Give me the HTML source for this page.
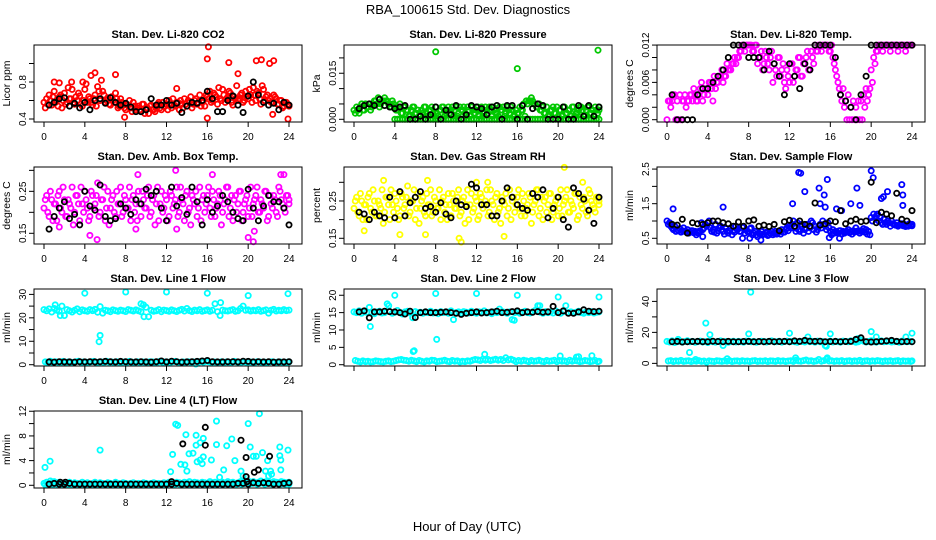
<!DOCTYPE html>
<html><head><meta charset="utf-8">
<style>
html,body{margin:0;padding:0;background:#fff;}
svg{display:block;font-family:"Liberation Sans",Arial,sans-serif;}
</style></head>
<body>
<svg id="chart" width="936" height="540" viewBox="0 0 936 540" xmlns="http://www.w3.org/2000/svg">
<rect width="936" height="540" fill="#fff"/>
<text x="468" y="14" font-size="13" text-anchor="middle">RBA_100615  Std. Dev. Diagnostics</text>
<text x="467" y="531" font-size="13" text-anchor="middle">Hour of Day (UTC)</text>
</svg>
<script>
const xTicks=[0,4,8,12,16,20,24];
const xTickLabels=["0","4","8","12","16","20","24"];

// CO2
const co2A=[0.58,0.62,0.66,0.55,0.70,0.60,0.64,0.52,0.68,0.58,0.62,0.72,0.56,0.60,0.65,0.54,0.72,0.58,0.62,0.55,0.66,0.75,0.60,0.70,0.58,0.63,0.55,0.60,0.68,0.52,0.62,0.57,0.50,0.55,0.52,0.58,0.50,0.54,0.48,0.56,0.52,0.46,0.55,0.50,0.53,0.58,0.50,0.54,0.56,0.60,0.52,0.55,0.58,0.50,0.56,0.62,0.54,0.58,0.52,0.60,0.56,0.66,0.58,0.54,0.64,0.70,0.60,0.66,0.56,0.62,0.72,0.58,0.64,0.68,0.55,0.62,0.60,0.66,0.58,0.70,0.62,0.66,0.74,0.60,0.68,0.56,0.72,0.64,0.60,0.58,0.66,0.62,0.56,0.60,0.54,0.58,0.55];
const co2B=[0.52,0.56,0.60,0.64,0.58,0.54,0.66,0.60,0.56,0.74,0.62,0.58,0.64,0.68,0.56,0.60,0.78,0.64,0.58,0.62,0.54,0.70,0.82,0.66,0.60,0.56,0.64,0.58,0.62,0.54,0.58,0.52,0.56,0.60,0.48,0.54,0.52,0.50,0.56,0.46,0.52,0.54,0.50,0.48,0.56,0.52,0.58,0.54,0.50,0.56,0.62,0.54,0.58,0.60,0.52,0.56,0.60,0.64,0.56,0.62,0.58,0.54,0.60,0.66,0.62,0.58,0.68,0.64,0.74,0.60,0.66,0.62,0.70,0.58,0.64,0.76,0.62,0.68,0.60,0.64,0.72,0.58,0.66,0.70,0.62,0.76,0.60,0.66,0.62,0.58,0.64,0.56,0.60,0.52,0.58,0.56,0.54];
const co2OutX=[16.1,16.0,18.1,20.8,21.3,22.1,22.5,19.0,7.0,5.0,4.6,1.0,23.9,16.0,7.9,22.4,1.5,2.7,3.8,13.0];
const co2OutY=[1.18,1.05,1.01,1.03,1.04,1.00,1.03,0.89,0.88,0.90,0.87,0.80,0.40,0.41,0.42,0.45,0.79,0.80,0.80,0.73];
const co2K=[0.55,0.58,0.62,0.63,0.54,0.57,0.52,0.58,0.50,0.60,0.62,0.57,0.63,0.58,0.55,0.57,0.53,0.48,0.48,0.50,0.62,0.55,0.55,0.60,0.55,0.57,0.47,0.54,0.58,0.57,0.60,0.70,0.62,0.48,0.48,0.60,0.65,0.55,0.47,0.65,0.80,0.66,0.58,0.55,0.57,0.50,0.58,0.55];

// Pressure
const prA=[0.003,0.004,0.002,0.005,0.003,0.004,0.005,0.004,0.006,0.005,0.004,0.006,0.007,0.006,0.005,0.006,0.004,0.003,0.005,0.002,0.004,0.003,0.001,0.004,0.002,0.003,0.001,0.002,0.004,0.001,0.003,0.002,0.004,0.001,0.003,0.004,0.002,0.004,0.003,0.001,0.004,0.002,0.003,0.004,0.001,0.003,0.004,0.002,0.003,0.001,0.004,0.002,0.003,0.004,0.001,0.003,0.002,0.004,0.003,0.001,0.004,0.002,0.003,0.001,0.002,0.004,0.003,0.001,0.005,0.006,0.006,0.005,0.004,0.003,0.004,0.002,0.001,0.003,0.004,0.002,0.001,0.003,0.004,0.002,0.003,0.001,0.004,0.002,0.003,0.004,0.001,0.003,0.004,0.002,0.001,0.003,0.004];
const prB=[0.002,0.003,0.004,0.003,0.005,0.004,0.003,0.005,0.006,0.007,0.005,0.006,0.006,0.005,0.004,0.005,0.003,0.004,0.002,0.004,0.003,0.001,0.003,0.004,0.002,0.001,0.003,0.004,0.002,0.003,0.004,0.001,0.002,0.003,0.004,0.001,0.003,0.002,0.004,0.003,0.001,0.004,0.003,0.002,0.004,0.001,0.003,0.002,0.004,0.003,0.001,0.004,0.002,0.003,0.004,0.002,0.001,0.003,0.004,0.002,0.003,0.004,0.001,0.003,0.002,0.003,0.005,0.006,0.006,0.007,0.005,0.004,0.005,0.003,0.002,0.004,0.001,0.003,0.002,0.004,0.003,0.001,0.004,0.002,0.003,0.004,0.001,0.002,0.004,0.003,0.001,0.004,0.002,0.003,0.004,0.002,0.003];
const prZero=[0,0,0,0,0,0,0,0,0,0,0,0,0,0,0,0,0,0,0,0,0,0,0,0,0,0,0,0,0,0,0,0,0,0,0,0,0,0,0,0,0,0,0,0,0,0,0,0,0,0,0,0,0,0,0,0,0,0,0,0,0,0,0,0,0,0,0,0,0,0,0,0,0,0,0,0,0,0,0,0,0];
const prOutX=[8,16,23.9];
const prOutY=[0.022,0.0165,0.0225];
const prK=[0.0035,0.0045,0.005,0.0045,0.0065,0.0045,0.004,0.0035,0.004,0.0045,0,0,0.001,0,0.0015,0.004,0,0.003,0.0015,0.0045,0,0.0015,0.0045,0.004,0.0035,0.0015,0.004,0.0045,0,0.0045,0.0045,0,0.0045,0,0.0035,0.005,0.0045,0,0,0,0.004,0,0,0.0045,0.001,0.0045,0.001,0.004];

// Li-820 Temp
const tmA=[0,0.003,0.003,0.004,0.003,0.004,0.003,0.004,0.003,0.004,0.003,0.004,0.003,0.005,0.003,0.005,0.004,0.006,0.003,0.005,0.006,0.007,0.006,0.007,0.008,0.008,0.009,0.009,0.010,0.011,0.012,0.012,0.012,0.012,0.011,0.012,0.010,0.011,0.009,0.010,0.008,0.011,0.009,0.007,0.010,0.008,0.006,0.008,0.006,0.009,0.007,0.008,0.010,0.007,0.009,0.011,0.008,0.010,0.012,0.011,0.012,0.012,0.012,0.012,0.011,0.010,0.008,0.006,0.004,0.005,0.003,0.004,0.002,0.003,0.002,0.003,0.003,0.004,0.005,0.004,0.008,0.010,0.011,0.012,0.012,0.012,0.012,0.012,0.012,0.012,0.012,0.012,0.012,0.012,0.012,0.012,0.012];
const tmB=[0.003,0.002,0.004,0,0,0,0.003,0.002,0.003,0.004,0.005,0.003,0.004,0.006,0.004,0.005,0.006,0.005,0.007,0.006,0.007,0.008,0.007,0.009,0.008,0.009,0.010,0.010,0.011,0.012,0.011,0.012,0.012,0.011,0.012,0.009,0.010,0.008,0.011,0.009,0.010,0.006,0.008,0.010,0.007,0.009,0.005,0.007,0.009,0.006,0.008,0.010,0.007,0.009,0.010,0.008,0.011,0.009,0.011,0.012,0.011,0.012,0.012,0.011,0.012,0.009,0.007,0.005,0.003,0.002,0,0,0,0,0,0,0,0.002,0.003,0.005,0.006,0.009,0.011,0.012,0.011,0.012,0.012,0.011,0.012,0.012,0.011,0.012,0.012,0.011,0.012,0.012,0.012];
const tmOutX=[];
const tmOutY=[];
const tmK=[0.004,0,0,0,0,0.004,0.005,0.005,0.006,0.007,0.008,0.010,0.012,0.012,0.012,0.010,0.010,0.010,0.008,0.011,0.009,0.007,0.004,0.009,0.007,0.005,0.009,0.008,0.012,0.012,0.012,0.012,0.010,0.004,0.003,0.002,0,0.004,0.007,0.012,0.012,0.012,0.012,0.012,0.012,0.012,0.012,0.012];

// Amb box temp
const abA=[0.21,0.24,0.19,0.23,0.22,0.18,0.25,0.20,0.23,0.19,0.22,0.26,0.20,0.24,0.18,0.22,0.25,0.21,0.19,0.24,0.22,0.27,0.20,0.23,0.18,0.25,0.21,0.24,0.19,0.22,0.26,0.20,0.23,0.21,0.18,0.24,0.22,0.25,0.19,0.23,0.21,0.26,0.20,0.24,0.22,0.18,0.25,0.21,0.23,0.19,0.24,0.22,0.26,0.20,0.23,0.18,0.25,0.21,0.24,0.22,0.19,0.26,0.23,0.20,0.24,0.21,0.25,0.19,0.22,0.24,0.20,0.23,0.26,0.21,0.18,0.24,0.22,0.25,0.20,0.23,0.19,0.26,0.22,0.24,0.20,0.23,0.21,0.25,0.19,0.22,0.24,0.20,0.26,0.23,0.21,0.24,0.22];
const abB=[0.23,0.20,0.25,0.18,0.22,0.24,0.21,0.26,0.19,0.23,0.21,0.17,0.24,0.22,0.26,0.20,0.23,0.18,0.25,0.21,0.24,0.19,0.23,0.26,0.21,0.17,0.23,0.20,0.25,0.22,0.19,0.24,0.21,0.26,0.23,0.20,0.18,0.22,0.25,0.21,0.24,0.19,0.23,0.17,0.26,0.22,0.20,0.24,0.18,0.25,0.21,0.23,0.19,0.26,0.22,0.24,0.20,0.17,0.23,0.25,0.21,0.18,0.24,0.22,0.26,0.19,0.23,0.21,0.25,0.17,0.22,0.26,0.19,0.24,0.23,0.20,0.25,0.18,0.22,0.24,0.21,0.19,0.23,0.26,0.20,0.22,0.25,0.18,0.24,0.21,0.23,0.19,0.25,0.22,0.20,0.24,0.23];
const abOutX=[5.2,4.5,12.9,9.2,16.5,23.2,23.5,20.5,20.0,20.6,9.0,13.0,1.5];
const abOutY=[0.135,0.145,0.30,0.29,0.29,0.29,0.29,0.13,0.14,0.155,0.16,0.16,0.165];
const abK=[0.16,0.19,0.21,0.225,0.185,0.195,0.17,0.25,0.215,0.205,0.265,0.19,0.18,0.185,0.22,0.21,0.195,0.23,0.22,0.255,0.24,0.25,0.21,0.18,0.26,0.215,0.235,0.195,0.26,0.225,0.17,0.23,0.20,0.215,0.24,0.225,0.20,0.185,0.18,0.255,0.21,0.18,0.215,0.24,0.225,0.225,0.21,0.17];

// Gas stream RH
const rhA=[0.23,0.26,0.21,0.25,0.24,0.20,0.27,0.22,0.25,0.21,0.24,0.28,0.22,0.26,0.20,0.24,0.27,0.23,0.21,0.26,0.24,0.29,0.22,0.25,0.20,0.27,0.23,0.26,0.21,0.24,0.28,0.22,0.25,0.23,0.20,0.26,0.24,0.27,0.21,0.25,0.23,0.28,0.22,0.26,0.24,0.20,0.27,0.23,0.25,0.21,0.26,0.24,0.28,0.22,0.25,0.20,0.27,0.23,0.26,0.24,0.21,0.28,0.25,0.22,0.26,0.23,0.27,0.21,0.24,0.26,0.22,0.25,0.28,0.23,0.20,0.26,0.24,0.27,0.22,0.25,0.21,0.28,0.24,0.26,0.22,0.25,0.23,0.27,0.21,0.24,0.26,0.22,0.28,0.25,0.23,0.26,0.24];
const rhB=[0.25,0.22,0.27,0.20,0.24,0.26,0.23,0.28,0.21,0.25,0.23,0.19,0.26,0.24,0.28,0.22,0.25,0.20,0.27,0.23,0.26,0.21,0.25,0.28,0.23,0.19,0.25,0.22,0.27,0.24,0.21,0.26,0.23,0.28,0.25,0.22,0.20,0.24,0.27,0.23,0.26,0.21,0.25,0.19,0.28,0.24,0.22,0.26,0.20,0.27,0.23,0.25,0.21,0.28,0.24,0.26,0.22,0.19,0.25,0.27,0.23,0.20,0.26,0.24,0.28,0.21,0.25,0.23,0.27,0.19,0.24,0.28,0.21,0.26,0.25,0.22,0.27,0.20,0.24,0.26,0.23,0.21,0.25,0.28,0.22,0.24,0.27,0.20,0.26,0.23,0.25,0.21,0.27,0.24,0.22,0.26,0.25];
const rhOutX=[10.5,10.3,7.0,4.5,14.7,20.6,12.0,2.9,7.2,13.1,1.0,22.4];
const rhOutY=[0.14,0.15,0.16,0.16,0.155,0.34,0.30,0.305,0.305,0.30,0.17,0.30];
const rhK=[0.22,0.215,0.20,0.22,0.21,0.205,0.26,0.205,0.275,0.21,0.245,0.26,0.275,0.23,0.235,0.22,0.245,0.215,0.205,0.25,0.24,0.235,0.295,0.285,0.24,0.24,0.21,0.21,0.25,0.285,0.26,0.24,0.23,0.225,0.27,0.26,0.28,0.205,0.23,0.26,0.20,0.18,0.285,0.27,0.255,0.225,0.19,0.26];

// Sample flow
const sfA=[1.0,0.95,0.8,0.85,0.75,0.78,0.72,0.7,0.75,0.68,0.72,0.7,0.66,0.72,0.75,0.9,0.95,0.8,0.75,0.9,0.72,0.85,0.7,0.78,0.65,0.8,0.72,0.85,0.78,0.7,0.82,0.74,0.68,0.8,0.65,0.6,0.65,0.7,0.62,0.68,0.6,0.7,0.65,0.62,0.7,0.75,0.68,0.8,0.85,0.9,0.8,0.95,0.7,0.85,0.75,0.9,0.8,0.95,0.85,0.75,0.9,1.0,0.85,0.95,0.7,0.75,0.7,0.65,0.72,0.7,0.68,0.75,0.7,0.72,0.8,0.72,0.7,0.78,0.75,0.7,1.1,1.2,1.15,1.0,0.95,1.05,0.9,0.95,1.0,0.9,0.95,0.88,0.92,0.9,0.88,0.92,0.9];
const sfB=[0.9,0.85,0.75,0.7,0.72,0.68,0.8,0.7,0.65,0.72,0.66,0.6,0.7,0.95,0.8,0.85,1.0,0.7,0.68,0.65,0.8,0.75,0.62,0.7,0.72,0.6,0.68,0.75,0.7,0.82,0.65,0.7,0.78,0.6,0.7,0.55,0.62,0.6,0.66,0.58,0.64,0.6,0.7,0.66,0.62,0.68,0.75,0.72,0.8,1.0,0.7,0.75,0.9,0.65,0.8,0.7,1.0,0.75,0.68,0.85,0.8,0.9,0.75,0.8,0.6,0.65,0.68,0.72,0.62,0.65,0.7,0.66,0.62,0.68,0.7,0.65,0.72,0.68,0.62,0.6,1.0,1.1,1.2,1.1,0.9,0.95,1.0,0.85,0.92,0.88,0.85,0.9,0.86,0.84,0.85,0.88,0.86];
const sfOutX=[0.6,5.5,12.9,13.1,15.7,20.0,20.2,13.5,14.9,15.4,18.6,21.6,23.0,23.1,21.0,21.2,18.9,17.1,16.6,15.5,12.3,15.0,9.2,7.4,8.1,16.9,15.9,3.5,23.1,18.0];
const sfOutY=[1.35,1.4,2.4,2.38,2.2,2.45,2.25,1.85,1.95,1.75,1.95,1.85,2.05,1.75,1.65,1.7,1.45,1.3,1.35,1.4,1.5,1.5,0.45,0.5,0.5,0.5,0.52,0.55,1.45,1.5];
const sfK=[0.9,0.88,1.05,0.65,0.95,0.92,0.9,0.95,1.0,1.0,0.95,0.92,0.85,0.97,0.85,1.0,1.03,0.85,0.88,0.84,0.9,0.72,0.98,1.02,0.85,1.0,0.9,0.85,1.52,0.88,0.92,1.0,0.98,1.3,0.92,1.0,1.05,0.98,1.0,2.12,0.95,1.25,1.2,1.15,1.8,1.05,1.0,1.3];

// Line 1 flow
const l1A=[23.5,23,23.8,22.5,24,23.2,22.8,25,21,23.5,23,22.5,23.2,23.8,22.6,23.4,23,22.8,23.5,23.1,23.6,22.4,24.8,22,23.2,23,22.6,23.4,23.1,22.8,23.3,23,22.7,23.5,23.2,22.9,23.4,23,22.6,25.5,24.5,20.5,23.2,22.8,23,23.5,22.6,23.3,23.1,22.8,23.4,23,22.7,23.2,23.6,22.9,24,23.1,22.7,23.3,23,23.5,22.8,23.1,23.4,22.8,23.2,26,22.6,21,23.3,23,22.9,23.2,23.5,22.8,23,24,25,23.2,23.4,22.9,23.2,23,23.5,22.8,23.1,23.4,22,23.2,23.6,22.9,23.2,23,23.5,23.1,23.3];
const l1B=[1.2,1.0,1.5,0.8,1.3,1.1,0.9,1.4,1.0,1.2,1.1,0.9,1.3,1.5,1.0,1.2,1.1,1.0,1.3,1.4,0.9,1.1,1.2,1.0,1.5,1.1,1.2,0.9,1.3,1.0,1.1,1.2,1.0,1.4,1.1,0.9,1.3,1.0,1.2,1.1,1.0,1.3,1.2,0.9,1.1,1.5,1.0,1.2,1.1,1.0,1.3,1.4,1.1,0.9,1.2,1.0,1.3,1.1,1.2,0.3,1.0,1.4,1.1,1.5,1.3,1.0,1.2,1.1,0.9,1.3,1.0,1.2,1.1,1.0,1.4,1.2,0.9,1.1,1.3,1.0,1.2,1.1,1.0,1.3,1.2,0.9,1.1,1.0,1.2,1.3,1.0,1.1,1.2,0.9,1.0,1.1,1.2];
const l1OutX=[4,8,12,16,20,23.9,5.5,5.4,9.5,17.3,1.1,9.8,1.6];
const l1OutY=[30.5,31,31,30.5,29.5,30.3,12.5,9.8,26,26.5,25.5,20.5,21];
const l1K=[1.2,1.1,1.3,1.2,1.2,1.1,1.3,1.2,1.3,1.2,1.3,1.4,1.3,1.2,1.4,1.3,1.2,1.2,1.3,1.2,1.1,1.3,1.6,1.2,1.5,1.3,1.1,1.2,1.3,1.4,1.6,1.8,1.3,1.2,1.2,1.3,1.3,1.2,1.5,1.4,1.2,1.3,1.2,1.3,1.1,1.2,1.2,1.3];

// Line 2 flow
const l2A=[15.2,15,15.5,14.8,15.3,15.1,16.5,15,14.7,15.2,15.4,14.9,15,17.5,15.3,14.8,15.1,15.6,15,14.6,15.2,15.4,14.9,13.5,15.3,15,15.1,14.8,15.2,15,15.4,14.9,15.1,14.7,15.3,15,15.2,14.8,15.5,13,15,15.2,14.8,15.3,15.1,14.9,15.4,15,14.8,15.2,15,15.5,14.9,15.1,14.7,15.2,15,16,15.3,15.1,14.8,15.2,13,15,15.3,14.8,15.1,15.4,15,14.9,15.2,15.6,17,15.1,14.8,15.3,15,15.2,14.9,15.5,15.1,14.8,15.3,17,15,15.2,14.9,15.1,15.4,15,14.8,15.2,15,15.3,14.9,15.1,15.2];
const l2B=[1.2,1.0,0.8,1.1,0.9,1.0,0.8,0.9,1.1,1.0,0.9,0.8,1.0,1.1,0.9,1.0,1.2,1.4,1.5,1.3,1.2,1.0,1.3,1.1,0.9,1.2,1.0,0.8,1.1,1.0,1.3,1.2,0.9,1.0,1.1,1.3,1.0,0.9,1.2,1.0,1.1,0.8,1.0,0.9,1.1,1.0,1.3,1.5,1.4,1.2,1.6,1.3,1.5,1.2,1.4,1.6,1.3,1.5,1.2,2.0,1.4,1.6,1.3,0.9,1.2,1.0,1.3,1.1,0.9,1.2,1.0,1.1,1.3,1.0,0.9,1.2,1.0,1.1,1.3,0.9,1.2,1.0,1.1,0.9,1.3,1.0,1.2,1.1,0.9,1.0,1.2,1.1,0.9,1.0,1.2,0.9,1.0];
const l2OutX=[4,8,12,16,20,24,1.6,8.1,5.8,5.9,12.8,20.2,21.8,22.0,23.3,3.4,18.2,15.7];
const l2OutY=[20,20.5,20.5,20,19.5,19.5,11,7.3,3.8,4.0,3.0,2.5,2.2,2.3,2.6,17,17,12.8];
const l2K=[15.2,15.5,13.5,15.2,15.2,15.4,15.3,15.2,15,14.6,15.4,13.6,15,15.2,15,15,15.1,15.2,15,14.8,14.5,14.8,15,15.2,14.9,15,15.2,15.4,15,15.1,15.3,15.5,15,15.2,15.1,15.3,15.1,15.2,16.8,15,15.5,14.8,14.8,15.2,15.8,15.4,15.3,15.4];

// Line 3 flow
const l3A=[14.2,13.8,14.5,13.5,14,14.3,13.7,14.1,14.6,13.9,14.2,13.6,14,14.4,13.8,14.1,13.5,14.3,14,13.7,14.2,14.5,13.9,14.1,13.6,14,14.3,13.8,14.2,14,13.7,14.4,14.1,13.9,14.2,13.6,14,14.3,14.1,13.8,14.2,14.5,13.9,14,14.3,13.7,14.1,14.4,13.9,14.2,14,13.6,14.3,14.1,13.8,14.5,14,14.2,13.7,14.4,13.9,14.1,11.5,14,14.3,13.8,14.2,14,13.7,14.4,14.1,13.9,14.5,14.2,13.6,14,15,14.3,13.8,14.1,14.6,14,13.7,14.2,14.5,13.9,14.1,14.3,13.8,14,14.2,13.6,14.4,14.1,13.9,14.2,14];
const l3B=[1.5,1.8,1.2,1.6,1.4,1.9,1.3,1.5,1.7,1.2,1.6,1.4,1.8,1.3,1.5,0.8,1.6,1.4,1.2,1.7,1.5,1.3,1.6,1.4,1.8,1.2,1.5,1.6,1.3,1.7,1.4,1.5,1.2,1.6,1.8,1.3,1.5,1.4,1.7,1.2,1.6,1.5,1.3,1.8,1.4,1.6,1.2,1.5,1.7,1.3,2.0,1.6,1.4,1.8,2.2,1.5,1.7,1.3,1.6,2.5,1.4,1.8,2.6,1.5,1.7,1.3,1.6,1.4,1.8,1.2,1.5,1.7,1.3,1.6,1.4,1.9,1.2,1.5,1.7,1.3,1.6,1.4,1.8,1.5,1.2,1.6,1.4,1.7,1.3,1.5,1.8,1.2,1.6,1.4,1.5,1.3,1.6];
const l3OutX=[8.2,3.8,4.2,8,12,16,20,24,2.2,15.6,5.5,13.8,20.5,23.4,18.7,12.6,15.7,5.9,2.8,1.1];
const l3OutY=[46,26,18.5,19,19.5,19,20.5,19.5,7,11,11.5,17,17,17,16,3.5,3.5,3,2.5,15.5];
const l3K=[14,14.2,13.8,14,14.1,14.2,14,14,14.3,14.1,14,14.2,14,14,14.1,14.2,14,14.1,14,14.2,14,14.1,14.2,14,14.5,14.2,14.8,14.3,14.2,14.3,14,14.1,14.2,14,14.1,14.2,15.5,16.5,14,13.8,14,14.2,14.5,14.8,14.2,14,14.1,14];

// Line 4 (LT) flow
const l4A=[0.3,0.5,0.2,0.4,0.6,0.3,0.5,0.2,0.4,0.3,0.5,0.2,0.4,0.3,0.2,0.5,0.3,0.4,0.2,0.3,0.5,0.2,0.4,0.3,0.2,0.4,0.3,0.2,0.5,0.3,0.2,0.4,0.3,0.2,0.3,0.4,0.2,0.3,0.2,0.4,0.3,0.2,0.3,0.4,0.2,0.3,0.2,0.4,0.3,0.5,0.4,0.3,0.5,0.4,0.3,0.5,0.4,0.6,0.3,0.5,0.4,0.3,0.5,0.4,0.3,0.6,0.4,0.5,0.3,0.4,0.5,0.3,0.6,0.4,0.5,0.3,0.4,0.6,0.5,0.3,0.7,0.5,0.6,0.4,0.5,0.7,0.4,0.6,0.5,0.4,0.6,0.5,0.4,0.6,0.5,0.4,0.5];
const l4B=[0.1,0.2,0.7,0.1,0.3,0.1,0.2,0.1,0.3,0.1,0.2,0.1,0.1,0.2,0.1,0.3,0.1,0.2,0.1,0.1,0.2,0.1,0.3,0.1,0.2,0.1,0.1,0.2,0.1,0.2,0.1,0.3,0.1,0.2,0.1,0.1,0.2,0.1,0.2,0.1,0.1,0.2,0.1,0.3,0.1,0.2,0.1,0.1,0.2,0.3,0.2,0.2,0.3,0.1,0.2,0.3,0.2,0.1,0.3,0.2,0.2,0.3,0.1,0.2,0.3,0.2,0.2,0.1,0.3,0.2,0.2,0.3,0.1,0.2,0.3,0.2,0.3,0.2,0.3,0.4,0.2,0.3,0.4,0.2,0.3,0.4,0.2,0.3,0.4,0.2,0.3,0.4,0.2,0.3,0.2,0.3,0.2];
const l4OutX=[0.1,0.6,5.5,12.4,12.6,12.9,13.1,13.4,13.8,13.9,14.0,14.2,14.6,14.9,14.9,15.0,15.3,15.5,15.6,15.6,15.3,16.4,16.9,16.9,17.2,17.6,17.9,18.4,18.7,19.3,19.5,20.0,20.2,20.5,20.8,21.1,21.4,21.9,22.0,22.2,22.3,23.1,23.1,23.2,23.2,23.9,21.7];
const l4OutY=[2.9,3.9,5.7,2.2,5,9.9,9.7,3.4,3.3,8.2,2.3,5.1,5.2,8.1,6.5,3.8,4.1,3.5,4.6,7.6,6.9,4.1,6.6,10.4,1.3,2.5,6.4,7.5,4,2.3,1.5,10,6.2,4.7,4.7,11.6,5.3,4.0,1.5,2.3,1.8,6.2,4.8,4.1,2.5,5.7,2.3];
const l4KOutX=[13.6,15.8,15.8,19.3,19.8,22.1,21.0,20.6,19.8,19.9,12.5,1.6,2.1];
const l4KOutY=[6.7,9.4,6.5,7.3,4.5,4.7,2.5,2.1,1.4,0.6,0.6,0.5,0.5];
const l4K=[0.2,0.3,0.2,0.2,0.3,0.2,0.2,0.2,0.2,0.2,0.2,0.2,0.2,0.2,0.2,0.2,0.2,0.2,0.2,0.2,0.2,0.2,0.2,0.2,0.2,0.3,0.2,0.2,0.2,0.2,0.2,0.2,0.2,0.2,0.2,0.2,0.2,0.3,0.3,0.2,0.4,0.3,0.4,0.3,0.2,0.2,0.3,0.4];

const panels=[
 {id:"co2",title:"Stan. Dev. Li-820 CO2",ylab:"Licor ppm",col:0,row:0,ymin:0.3676,ymax:1.20,ticks:[0.4,0.6,0.8,1.0],labels:["0.4","","0.8",""],color:"#ff0000",A:co2A,B:co2B,ox:co2OutX,oy:co2OutY,K:co2K,xl:true},
 {id:"pressure",title:"Stan. Dev. Li-820 Pressure",ylab:"kPa",col:1,row:0,ymin:-0.00088,ymax:0.0242,ticks:[0,0.005,0.010,0.015,0.020],labels:["0.000","","","0.015",""],color:"#00c800",A:prA,B:prB,Z:prZero,ox:prOutX,oy:prOutY,K:prK,xl:true},
 {id:"li820-temp",title:"Stan. Dev. Li-820 Temp.",ylab:"degrees C",col:2,row:0,ymin:-0.00037,ymax:0.01201,ticks:[0,0.002,0.004,0.006,0.008,0.010,0.012],labels:["0.000","","","0.006","","","0.012"],color:"#ff00ff",A:tmA,B:tmB,ox:tmOutX,oy:tmOutY,K:tmK,xl:true},
 {id:"amb-box-temp",title:"Stan. Dev. Amb. Box Temp.",ylab:"degrees C",col:0,row:1,ymin:0.1245,ymax:0.308,ticks:[0.15,0.20,0.25,0.30],labels:["0.15","","0.25",""],color:"#ff00ff",A:abA,B:abB,ox:abOutX,oy:abOutY,K:abK,xl:true},
 {id:"gas-rh",title:"Stan. Dev. Gas Stream RH",ylab:"percent",col:1,row:1,ymin:0.1347,ymax:0.341,ticks:[0.15,0.20,0.25,0.30],labels:["0.15","","0.25",""],color:"#ffff00",A:rhA,B:rhB,ox:rhOutX,oy:rhOutY,K:rhK,xl:true},
 {id:"sample-flow",title:"Stan. Dev. Sample Flow",ylab:"ml/min",col:2,row:1,ymin:0.335,ymax:2.56,ticks:[0.5,1.0,1.5,2.0,2.5],labels:["0.5","","1.5","","2.5"],color:"#0000ff",A:sfA,B:sfB,ox:sfOutX,oy:sfOutY,K:sfK,xl:true},
 {id:"line1-flow",title:"Stan. Dev. Line 1 Flow",ylab:"ml/min",col:0,row:2,ymin:-0.55,ymax:32.3,ticks:[0,5,10,15,20,25,30],labels:["0","","10","","20","","30"],color:"#00ffff",A:l1A,B:l1B,ox:l1OutX,oy:l1OutY,K:l1K,xl:true},
 {id:"line2-flow",title:"Stan. Dev. Line 2 Flow",ylab:"ml/min",col:1,row:2,ymin:-0.37,ymax:21.8,ticks:[0,5,10,15,20],labels:["0","5","10","15","20"],color:"#00ffff",A:l2A,B:l2B,ox:l2OutX,oy:l2OutY,K:l2K,xl:false},
 {id:"line3-flow",title:"Stan. Dev. Line 3 Flow",ylab:"ml/min",col:2,row:2,ymin:-1.7,ymax:48,ticks:[0,10,20,30,40],labels:["0","","20","","40"],color:"#00ffff",A:l3A,B:l3B,ox:l3OutX,oy:l3OutY,K:l3K,xl:false},
 {id:"line4-flow",title:"Stan. Dev. Line 4 (LT) Flow",ylab:"ml/min",col:0,row:3,ymin:-0.44,ymax:12.04,ticks:[0,2,4,6,8,10,12],labels:["0","","4","","8","","12"],color:"#00ffff",A:l4A,B:l4B,ox:l4OutX,oy:l4OutY,K:l4K,kox:l4KOutX,koy:l4KOutY,xl:true}
];

const NS="http://www.w3.org/2000/svg";
const svg=document.getElementById('chart');
const colLeft=[34,344,657], rowTop=[45,167,289,411], PW=268, PH=77;
function mk(tag,attrs,parent){const e=document.createElementNS(NS,tag);for(const k in attrs)e.setAttribute(k,attrs[k]);parent.appendChild(e);return e;}

panels.forEach(p=>{
  const L=colLeft[p.col], T=rowTop[p.row];
  const g=mk('g',{},svg);
  
  
  const xs=t=>L+10+t*(PW-23)/24;
  const ys=v=>T+PH-(v-p.ymin)/(p.ymax-p.ymin)*PH;
  const title=mk('text',{x:L+PW/2,y:T-7,'font-size':11,'font-weight':'bold','text-anchor':'middle'},g);
  title.textContent=p.title;
  
  
  const yl=mk('text',{x:0,y:0,'font-size':10.5,'text-anchor':'middle',transform:`translate(${L-24},${T+PH/2}) rotate(-90)`},g);
  yl.textContent=p.ylab;
  
  
  const pts=mk('g',{fill:'none','stroke-width':1.8},g);
  
  
  function dot(t,v,c){
    if(v<p.ymin||v>p.ymax)return;
    const e=mk('circle',{cx:xs(t).toFixed(1),cy:ys(v).toFixed(1),r:2.6,stroke:c},pts);
    
    
  }
  const sa=24/(p.A.length-1);
  p.A.forEach((v,i)=>dot(i*sa,v,p.color));
  const sb=24/(p.B.length-1);
  p.B.forEach((v,i)=>dot(Math.min(24,i*sb+sb/2),v,p.color));
  if(p.Z){const sz=20/(p.Z.length-1);p.Z.forEach((v,i)=>dot(4+i*sz,v,p.color));}
  p.ox.forEach((t,i)=>dot(t,p.oy[i],p.color));
  const sk=24/p.K.length;
  p.K.forEach((v,i)=>dot((i+1)*sk,v,'#000'));
  if(p.kox)p.kox.forEach((t,i)=>dot(t,p.koy[i],'#000'));
  const box=mk('rect',{x:L,y:T,width:PW,height:PH,fill:'none',stroke:'#000','stroke-width':1},g);
  
  
  xTicks.forEach((t,i)=>{
    mk('line',{x1:xs(t),x2:xs(t),y1:T+PH,y2:T+PH+5,stroke:'#000'},g);
    if(p.xl){
      const tl=mk('text',{x:xs(t),y:T+PH+18,'font-size':10,'text-anchor':'middle'},g);
      tl.textContent=xTickLabels[i];
      
      
    }
  });
  p.ticks.forEach((v,i)=>{
    const y=ys(v);
    mk('line',{x1:L-5,x2:L,y1:y,y2:y,stroke:'#000'},g);
    if(p.labels[i]){
      const tl=mk('text',{x:0,y:0,'font-size':10,'text-anchor':'middle',transform:`translate(${L-8},${y}) rotate(-90)`},g);
      tl.textContent=p.labels[i];
      
      
    }
  });
});
</script>
</body></html>
